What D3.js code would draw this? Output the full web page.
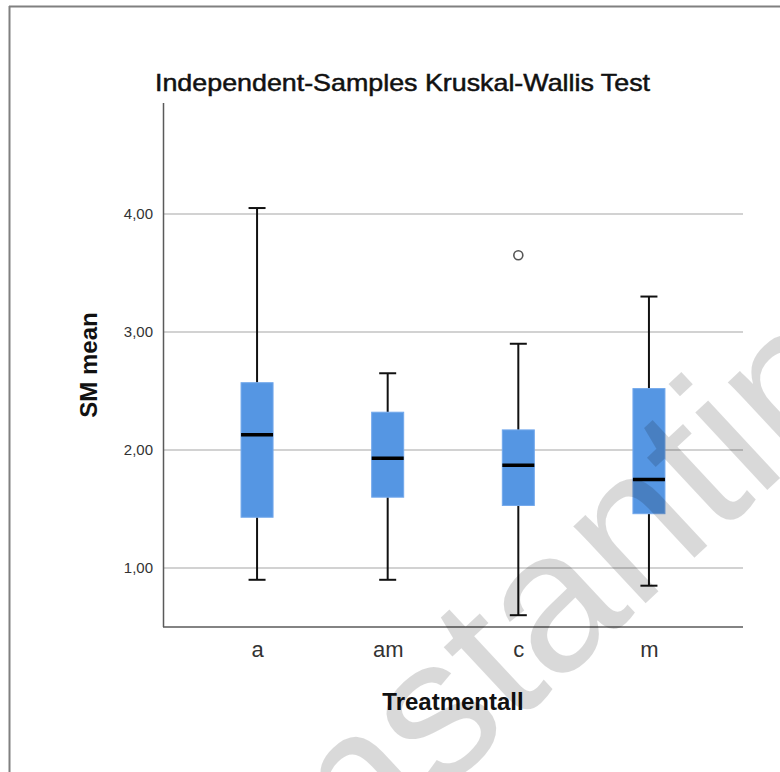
<!DOCTYPE html>
<html>
<head>
<meta charset="utf-8">
<script src="https://cdn.jsdelivr.net/npm/d3@7"></script>
<style>
  body { margin: 0; background: #fff; }
  svg { display: block; font-family: "Liberation Sans", Arial, sans-serif; }
</style>
</head>
<body>
<svg id="chart" width="780" height="772"></svg>
<script>
// values
const categories = ["a", "am", "c", "m"];
const whiskerLow = [0.90, 0.90, 0.60, 0.85];
const q1 = [1.43, 1.60, 1.53, 1.46];
const median = [2.13, 1.93, 1.87, 1.75];
const q3 = [2.57, 2.32, 2.17, 2.52];
const whiskerHigh = [4.05, 2.65, 2.90, 3.30];
const outliers = [{ cat: "c", value: 3.65 }];
const yTicks = [1, 2, 3, 4];

const svg = d3.select("#chart");

const plot = { left: 163, right: 743, top: 103, bottom: 627 };

const colors = {
    frame: "#808080",
    grid: "#d2d2d2",
    axis: "#5a5a5a",
    text: "#333333",
    box: "#5596e3",
    boxEdge: "#72a8ec"
};

const x = d3.scalePoint().domain(categories).range([plot.left, plot.right]).padding(0.72);
const y = d3.scaleLinear().domain([0.5, 4.94]).range([plot.bottom, plot.top]);

const boxW = 32, capW = 17;

// outer frame (only top + left edges show in the crop)
svg.append("line").attr("x1", 9).attr("x2", 780).attr("y1", 6.5).attr("y2", 6.5)
    .attr("stroke", colors.frame).attr("stroke-width", 2);
svg.append("line").attr("x1", 9.5).attr("x2", 9.5).attr("y1", 6).attr("y2", 772)
    .attr("stroke", colors.frame).attr("stroke-width", 2);

// title
svg.append("text")
    .attr("x", 155).attr("y", 91)
    .attr("textLength", 495).attr("lengthAdjust", "spacingAndGlyphs")
    .style("font-size", "24px")
    .style("fill", "#111")
    .style("stroke", "#111").style("stroke-width", 0.5)
    .text("Independent-Samples Kruskal-Wallis Test");

// gridlines
svg.append("g").selectAll("line")
    .data(yTicks)
    .enter().append("line")
    .attr("x1", plot.left).attr("x2", plot.right)
    .attr("y1", d => y(d)).attr("y2", d => y(d))
    .attr("stroke", colors.grid).attr("stroke-width", 2);

// y axis
const yAxis = svg.append("g")
    .attr("transform", `translate(${plot.left},0)`)
    .call(d3.axisLeft(y).tickValues(yTicks).tickSize(0).tickPadding(10)
        .tickFormat(d => d3.format(".2f")(d).replace(".", ",")));
yAxis.select(".domain").remove();
yAxis.selectAll("text")
    .style("font-family", "Liberation Sans, Arial, sans-serif")
    .style("font-size", "15px")
    .style("fill", colors.text);

// x axis labels
const xAxis = svg.append("g")
    .attr("transform", `translate(0,${plot.bottom})`)
    .call(d3.axisBottom(x).tickSize(0).tickPadding(14));
xAxis.select(".domain").remove();
xAxis.selectAll("text")
    .style("font-family", "Liberation Sans, Arial, sans-serif")
    .style("font-size", "22px")
    .style("fill", colors.text);

// axis lines
svg.append("line").attr("x1", plot.left + 0.5).attr("x2", plot.left + 0.5)
    .attr("y1", plot.top).attr("y2", plot.bottom)
    .attr("stroke", colors.axis).attr("stroke-width", 1.5);
svg.append("line").attr("x1", plot.left).attr("x2", plot.right)
    .attr("y1", plot.bottom).attr("y2", plot.bottom)
    .attr("stroke", colors.axis).attr("stroke-width", 1.5);

// axis titles
svg.append("text")
    .attr("x", (plot.left + plot.right) / 2).attr("y", 710)
    .attr("text-anchor", "middle")
    .style("font-size", "24px").style("font-weight", "bold").style("fill", "#111")
    .text("Treatmentall");

svg.append("text")
    .attr("transform", `translate(97,${(plot.top + plot.bottom) / 2}) rotate(-90)`)
    .attr("text-anchor", "middle")
    .style("font-size", "24px").style("font-weight", "bold").style("fill", "#111")
    .text("SM mean");

// boxes
const rows = categories.map((c, i) => ({
    cat: c, lo: whiskerLow[i], q1: q1[i], med: median[i], q3: q3[i], hi: whiskerHigh[i]
}));

const g = svg.append("g");

const box = g.selectAll(".box").data(rows).enter().append("g").attr("class", "box");

box.append("line")
    .attr("x1", d => x(d.cat)).attr("x2", d => x(d.cat))
    .attr("y1", d => y(d.hi)).attr("y2", d => y(d.q3))
    .attr("stroke", "#111").attr("stroke-width", 2);
box.append("line")
    .attr("x1", d => x(d.cat)).attr("x2", d => x(d.cat))
    .attr("y1", d => y(d.q1)).attr("y2", d => y(d.lo))
    .attr("stroke", "#111").attr("stroke-width", 2);

box.selectAll(".cap")
    .data(d => [{ cat: d.cat, v: d.hi }, { cat: d.cat, v: d.lo }])
    .enter().append("line")
    .attr("class", "cap")
    .attr("x1", d => x(d.cat) - capW / 2).attr("x2", d => x(d.cat) + capW / 2)
    .attr("y1", d => y(d.v)).attr("y2", d => y(d.v))
    .attr("stroke", "#111").attr("stroke-width", 2);

box.append("rect")
    .attr("x", d => x(d.cat) - boxW / 2)
    .attr("y", d => y(d.q3))
    .attr("width", boxW)
    .attr("height", d => y(d.q1) - y(d.q3))
    .attr("fill", colors.box)
    .attr("stroke", colors.boxEdge).attr("stroke-width", 1);

box.append("line")
    .attr("x1", d => x(d.cat) - boxW / 2).attr("x2", d => x(d.cat) + boxW / 2)
    .attr("y1", d => y(d.med)).attr("y2", d => y(d.med))
    .attr("stroke", "#000").attr("stroke-width", 3.5);

g.selectAll(".outlier").data(outliers).enter().append("circle")
    .attr("class", "outlier")
    .attr("cx", d => x(d.cat)).attr("cy", d => y(d.value))
    .attr("r", 4.5)
    .attr("fill", "#fff").attr("stroke", "#555").attr("stroke-width", 1.6);

// watermark over the chart
svg.append("text")
    .attr("transform", "translate(172,1045) rotate(-43)")
    .style("font-size", "200px")
    .style("fill", "#000").style("fill-opacity", 0.15)
    .text("Constantin");
</script>
</body>
</html>
